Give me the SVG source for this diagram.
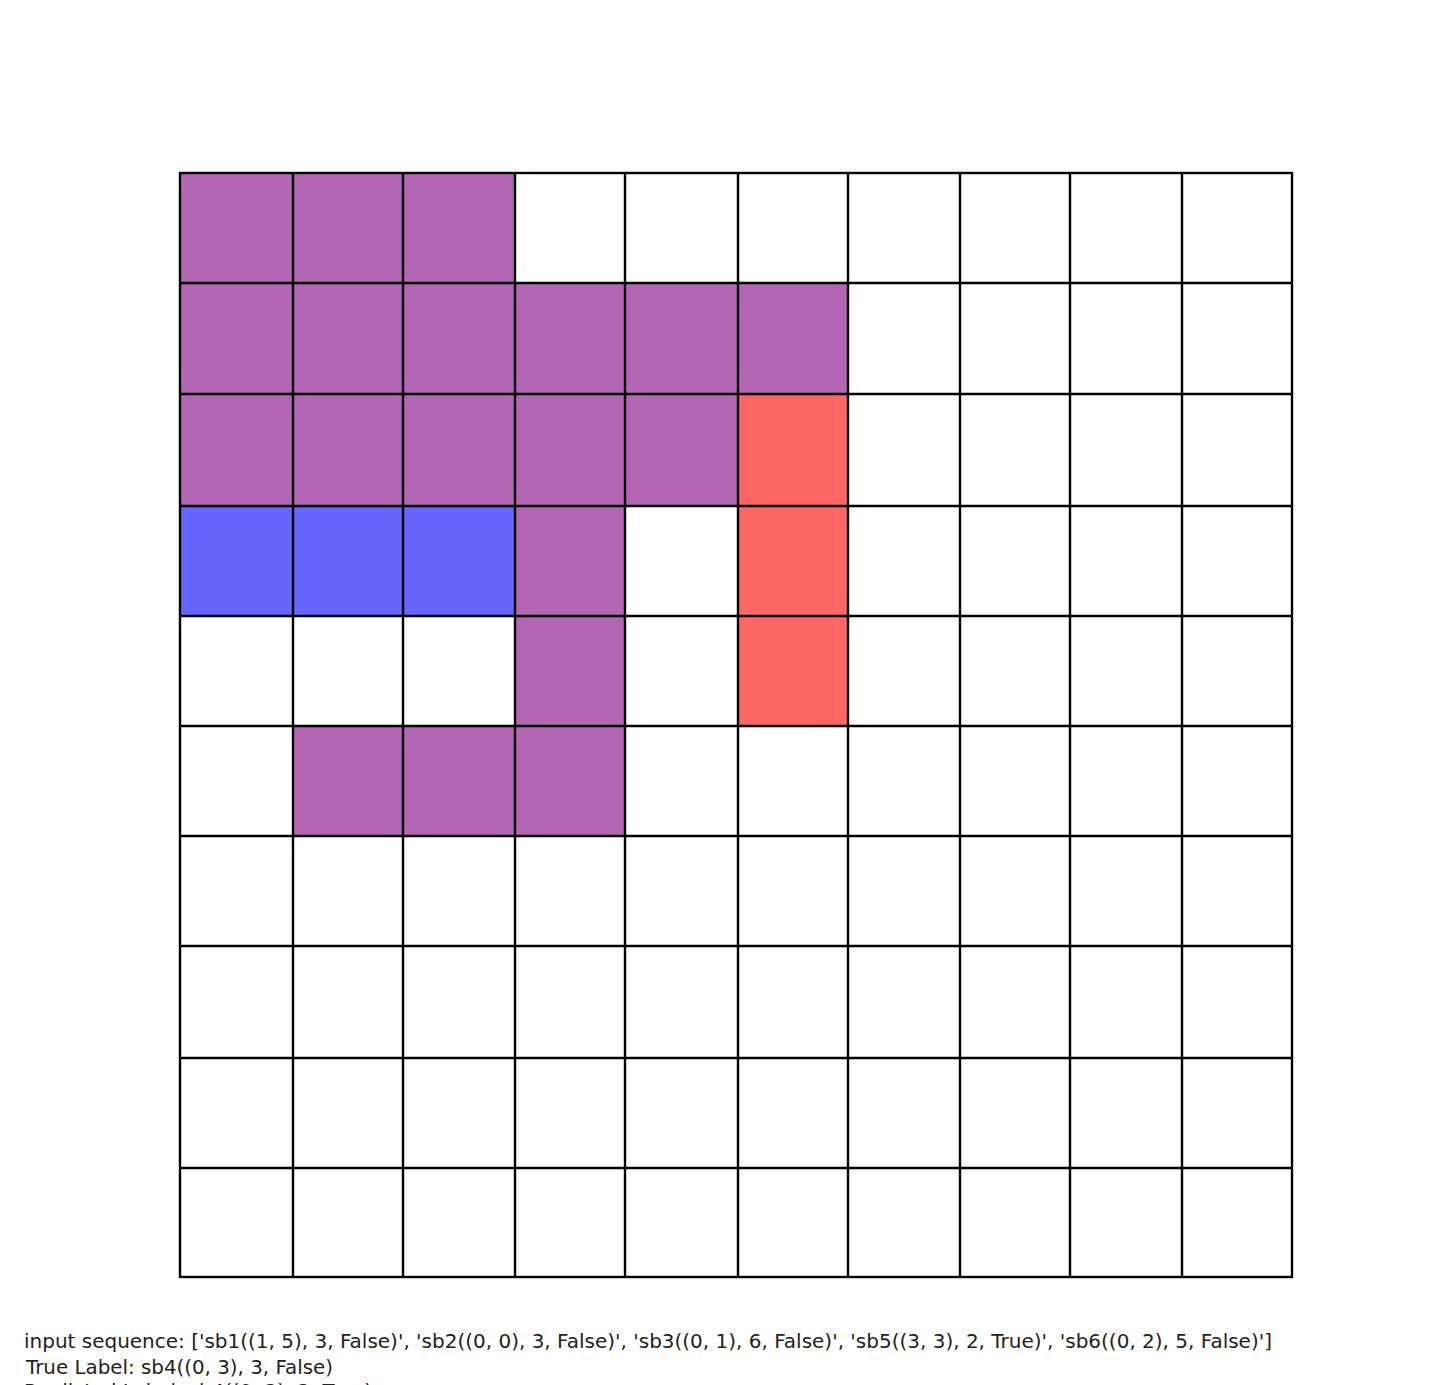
<svg xmlns="http://www.w3.org/2000/svg" width="1435" height="1385" viewBox="0 0 1435 1385">
<style>
.g{stroke:#000;stroke-width:2.4;fill:none}
.p{fill:#b366b3}
.r{fill:#ff6666}
.b{fill:#6666ff}
.t{font-family:"DejaVu Sans",sans-serif;font-size:20px;fill:#222}
</style>
<rect width="1435" height="1385" fill="#fff"/>
<g id="cells">
<rect class="p" x="180" y="173" width="113" height="110"/>
<rect class="p" x="293" y="173" width="110" height="110"/>
<rect class="p" x="403" y="173" width="112" height="110"/>
<rect class="p" x="180" y="283" width="668" height="111"/>
<rect class="p" x="180" y="394" width="558" height="112"/>
<rect class="r" x="738" y="394" width="110" height="332"/>
<rect class="b" x="180" y="506" width="335" height="110"/>
<rect class="p" x="515" y="506" width="110" height="220"/>
<rect class="p" x="293" y="726" width="332" height="110"/>
</g>
<g id="grid" class="g">
<rect x="180" y="173" width="1112" height="1104"/>
<path d="M293 173V1277M403 173V1277M515 173V1277M625 173V1277M738 173V1277M848 173V1277M960 173V1277M1070 173V1277M1182 173V1277"/>
<path d="M180 283H1292M180 394H1292M180 506H1292M180 616H1292M180 726H1292M180 836H1292M180 946H1292M180 1058H1292M180 1168H1292"/>
</g>
<g id="caption">
<text class="t" x="24" y="1348" textLength="1248" lengthAdjust="spacingAndGlyphs">input sequence: ['sb1((1, 5), 3, False)', 'sb2((0, 0), 3, False)', 'sb3((0, 1), 6, False)', 'sb5((3, 3), 2, True)', 'sb6((0, 2), 5, False)']</text>
<text class="t" x="26" y="1374" textLength="307" lengthAdjust="spacingAndGlyphs">True Label: sb4((0, 3), 3, False)</text>
<text class="t" x="24" y="1398" textLength="348" lengthAdjust="spacingAndGlyphs">Predicted Label: sb4((0, 3), 3, True)</text>
</g>
</svg>
